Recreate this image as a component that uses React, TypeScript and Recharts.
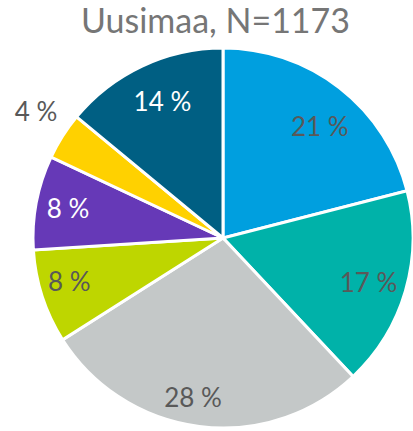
import { PieChart, Pie, Cell } from "recharts";

const categories = ["A", "B", "C", "D", "E", "F", "G"];
const shares = [21, 17, 28, 8, 8, 4, 14];
const colors = ["#009FDF", "#00B2A9", "#C4C8C8", "#BED600", "#6639B7", "#FFD100", "#005F83"];
const labelColors = ["#595959", "#595959", "#595959", "#595959", "#FFFFFF", "#595959", "#FFFFFF"];
// label placement: share of the radius, and a small turn off the slice middle (degrees)
const labelDist = [0.78, 0.8, 0.85, 0.84, 0.83, 1.19, 0.79];
const labelTurn = [-3, -0.5, -3.5, -2.3, 0, -1.8, -1.4];

const data = categories.map((name, i) => ({ name, value: shares[i] }));

const RAD = Math.PI / 180;

const renderLabel = (props: any) => {
  const { cx, cy, midAngle, outerRadius, index, value } = props;
  const r = outerRadius * labelDist[index];
  const a = midAngle + labelTurn[index];
  const x = cx + r * Math.cos(-a * RAD);
  const y = cy + r * Math.sin(-a * RAD);
  return (
    <text
      x={x}
      y={y}
      fill={labelColors[index]}
      textAnchor="middle"
      dominantBaseline="central"
      fontSize={26}
      fontFamily="Lato, sans-serif"
    >
      {`${value} %`}
    </text>
  );
};

export default function App() {
  return (
    <div style={{ position: "absolute", left: 0, top: 0, width: 413, height: 431, background: "#fff" }}>
      <div
        style={{
          position: "absolute",
          left: 0,
          top: -2,
          width: 431,
          textAlign: "center",
          fontFamily: "Lato, sans-serif",
          fontSize: 34,
          color: "#767676",
          lineHeight: "44px",
        }}
      >
        Uusimaa, N=1173
      </div>
      <PieChart
        width={413}
        height={431}
        margin={{ top: 0, right: 0, bottom: 0, left: 0 }}
        style={{ position: "absolute", left: 0, top: 0 }}
      >
        <Pie
          data={data}
          dataKey="value"
          cx={223}
          cy={238}
          outerRadius={190}
          startAngle={90}
          endAngle={-270}
          stroke="#FFFFFF"
          strokeWidth={3}
          labelLine={false}
          label={renderLabel}
          isAnimationActive={false}
        >
          {data.map((d, i) => (
            <Cell key={d.name} fill={colors[i]} />
          ))}
        </Pie>
      </PieChart>
    </div>
  );
}
